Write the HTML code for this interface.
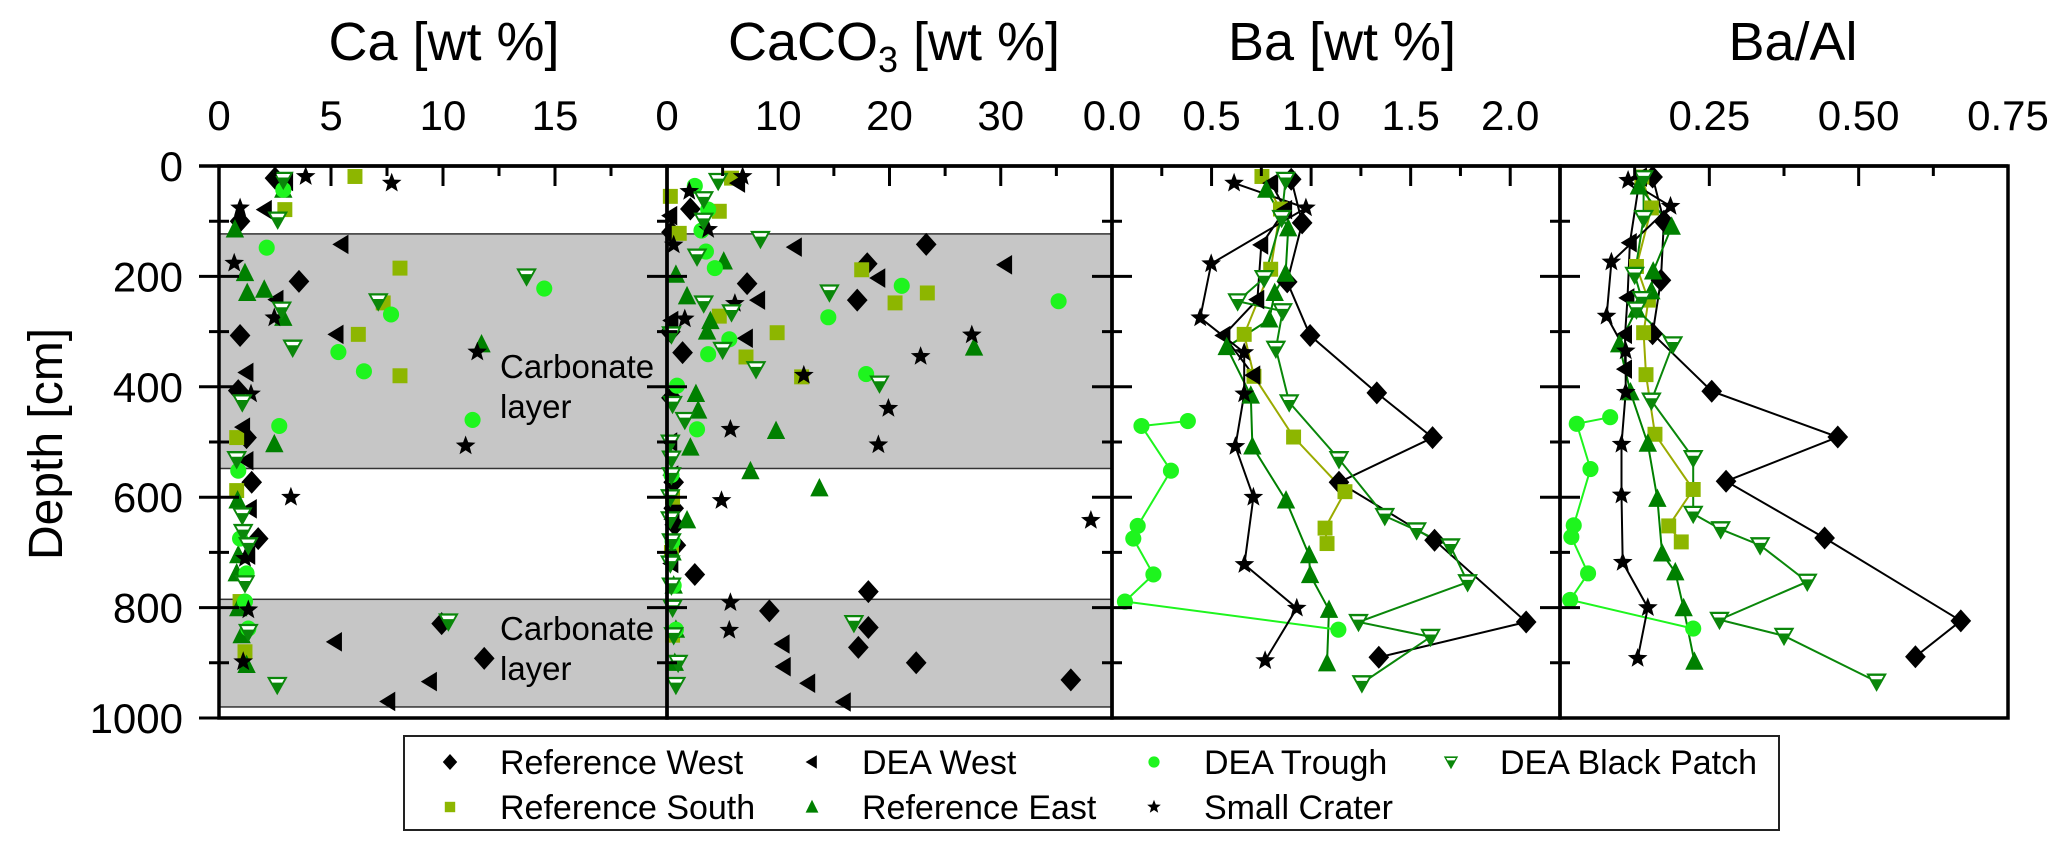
<!DOCTYPE html>
<html><head><meta charset="utf-8"><style>
html,body{margin:0;padding:0;background:#fff;}
svg{display:block;font-family:"Liberation Sans",Arial,sans-serif;}
</style></head><body>
<svg id="chart" width="2067" height="848" viewBox="0 0 2067 848" xmlns="http://www.w3.org/2000/svg">
<rect x="0" y="0" width="2067" height="848" fill="#fff"/>
<g id="bands"></g>
<g id="lines"></g>
<g id="marks"></g>
<g id="axes"></g>
<text x="500" y="378" font-size="33">Carbonate</text>
<text x="500" y="418" font-size="33">layer</text>
<text x="500" y="640" font-size="33">Carbonate</text>
<text x="500" y="680" font-size="33">layer</text>
<text x="444" y="60" font-size="54" text-anchor="middle">Ca [wt %]</text>
<text x="894" y="60" font-size="54" text-anchor="middle">CaCO<tspan font-size="36" dy="12">3</tspan><tspan dy="-12"> [wt %]</tspan></text>
<text x="1342" y="60" font-size="54" text-anchor="middle">Ba [wt %]</text>
<text x="1793" y="60" font-size="54" text-anchor="middle">Ba/Al</text>
<text x="0" y="0" font-size="48" text-anchor="middle" transform="translate(62,444) rotate(-90)">Depth [cm]</text>
<g id="legend">
<rect x="404" y="736" width="1375" height="94" fill="#fff" stroke="#222" stroke-width="2"/>
</g>
</svg>
<script>
// ---- Ca [wt %] ----
const ca_refWest_depth=[22,100,209,307,407,492,573,675,829,892];
const ca_refWest_val=[2.5,0.94,3.57,0.94,0.86,1.23,1.46,1.75,9.94,11.84];
const ca_refSouth_depth=[19,79,185,248,305,380,492,588,789,880];
const ca_refSouth_val=[6.07,2.94,8.08,7.33,6.22,8.08,0.79,0.79,0.94,1.16];
const ca_deaWest_depth=[28,79,142,242,305,374,473,534,621,705,862,934,970];
const ca_deaWest_val=[3.0,2.05,5.47,2.57,5.25,1.23,1.08,1.23,1.38,1.31,5.18,9.42,7.56];
const ca_refEast_depth=[43,115,194,224,230,275,323,504,606,705,738,801,850,904];
const ca_refEast_val=[2.87,0.71,1.16,2.02,1.26,2.87,11.72,2.47,0.83,0.86,0.79,0.86,1.01,1.23];
const ca_trough_depth=[43,148,222,269,337,372,460,471,552,675,738,789,838];
const ca_trough_val=[2.87,2.13,14.52,7.68,5.33,6.47,11.32,2.69,0.86,0.94,1.23,1.16,1.31];
const ca_crater_depth=[19,31,76,176,275,337,413,507,600,711,804,898];
const ca_crater_val=[3.87,7.71,0.94,0.68,2.47,11.53,1.43,11.01,3.21,1.16,1.31,1.08];
const ca_patch_depth=[25,97,200,245,260,329,428,531,633,663,687,756,825,844,940];
const ca_patch_val=[2.87,2.62,13.73,7.11,2.8,3.29,1.04,0.79,1.04,1.08,1.31,1.16,10.24,1.31,2.6];
// ---- CaCO3 [wt %] ----
const cc_refWest_depth=[78,142,177,213,243,338,573,687,740,771,806,836,872,900,931,120,300,420,620,650];
const cc_refWest_val=[2.1,23.3,18.0,7.2,17.1,1.4,0.6,0.8,2.5,18.1,9.2,18.1,17.2,22.4,36.3,0.4,0.3,0.4,0.6,0.7];
const cc_refSouth_depth=[22,55,82,122,188,230,248,272,302,346,382,600,700,850];
const cc_refSouth_val=[5.8,0.3,4.7,1.1,17.5,23.4,20.5,4.7,9.9,7.1,12.1,0.5,0.4,0.5];
const cc_deaWest_depth=[31,147,179,203,243,312,866,907,937,971,90,280,500,560,640,720];
const cc_deaWest_val=[6.4,11.5,30.4,19.0,8.2,7.1,10.4,10.5,12.7,15.9,0.3,0.4,0.3,0.4,0.5,0.4];
const cc_refEast_depth=[173,197,236,281,300,329,413,443,480,510,553,584,642,700,760,840,900];
const cc_refEast_val=[5.1,0.8,1.8,3.9,3.6,27.6,2.6,2.8,9.8,2.1,7.5,13.7,1.8,0.5,0.6,0.8,0.7];
const cc_trough_depth=[36,79,117,155,185,217,245,274,314,341,377,398,477,560,680,760,840];
const cc_trough_val=[2.5,3.7,3.1,3.5,4.3,21.1,35.2,14.5,5.6,3.7,17.9,0.9,2.7,0.4,0.5,0.6,0.8];
const cc_crater_depth=[19,46,115,143,249,277,306,345,379,439,477,505,606,642,791,841];
const cc_crater_val=[6.8,2.0,3.7,0.6,6.1,1.6,27.4,22.8,12.3,19.9,5.7,19.0,4.9,38.1,5.7,5.6];
const cc_patch_depth=[27,60,99,132,164,229,249,265,305,333,368,394,431,460,501,530,560,600,640,680,720,760,800,828,850,900,940];
const cc_patch_val=[4.6,3.3,3.3,8.4,2.7,14.6,3.3,5.8,0.4,5.0,8.0,19.1,0.5,1.6,0.3,0.4,0.4,0.3,0.3,0.4,0.3,0.4,0.5,16.8,0.6,1.0,0.8];
// ---- Ba [wt %] ----
const ba_refWest_depth=[24,103,210,307,411,492,573,678,826,890];
const ba_refWest_val=[0.90,0.955,0.88,0.995,1.33,1.61,1.14,1.62,2.08,1.34];
const ba_refSouth_depth=[19,78,187,305,381,491,590,656,684];
const ba_refSouth_val=[0.753,0.846,0.797,0.664,0.713,0.912,1.17,1.07,1.08];
const ba_deaWest_depth=[31,79,143,242,307,379];
const ba_deaWest_val=[0.80,0.87,0.75,0.73,0.56,0.71];
const ba_refEast_depth=[43,113,195,230,278,328,416,508,606,705,741,804,901];
const ba_refEast_val=[0.775,0.885,0.872,0.817,0.79,0.576,0.697,0.705,0.874,0.99,0.995,1.09,1.08];
const ba_trough_depth=[462,471,552,652,675,740,789,840];
const ba_trough_val=[0.381,0.148,0.296,0.129,0.107,0.208,0.065,1.137];
const ba_crater_depth=[31,76,177,275,338,413,508,600,722,801,896];
const ba_crater_val=[0.613,0.974,0.498,0.443,0.664,0.664,0.62,0.71,0.665,0.928,0.769];
const ba_patch_depth=[25,94,203,245,263,331,428,531,634,660,689,754,826,853,937];
const ba_patch_val=[0.872,0.852,0.764,0.631,0.857,0.823,0.89,1.14,1.37,1.53,1.70,1.786,1.238,1.60,1.255];
// ---- Ba/Al ----
const baal_refWest_depth=[20,100,207,304,408,491,571,674,824,889];
const baal_refWest_val=[0.155,0.174,0.169,0.155,0.254,0.465,0.278,0.443,0.671,0.595];
const baal_refSouth_depth=[20,76,182,243,302,378,486,586,652,681];
const baal_refSouth_val=[0.137,0.153,0.128,0.148,0.14,0.144,0.159,0.223,0.182,0.203];
const baal_deaWest_depth=[20,139,239,305,368];
const baal_deaWest_val=[0.134,0.117,0.113,0.109,0.109];
const baal_refEast_depth=[37,110,191,227,260,323,410,503,603,702,736,801,898];
const baal_refEast_val=[0.132,0.187,0.156,0.153,0.128,0.099,0.118,0.147,0.163,0.171,0.193,0.207,0.225];
const baal_trough_depth=[455,467,549,651,672,738,786,838];
const baal_trough_val=[0.084,0.028,0.051,0.023,0.019,0.047,0.017,0.223];
const baal_crater_depth=[26,73,174,272,335,410,504,596,718,800,892];
const baal_crater_val=[0.114,0.185,0.086,0.078,0.11,0.11,0.103,0.103,0.105,0.147,0.13];
const baal_patch_depth=[22,94,197,241,260,323,425,529,630,658,687,753,822,851,934];
const baal_patch_val=[0.14,0.14,0.125,0.137,0.128,0.189,0.153,0.223,0.223,0.269,0.335,0.414,0.267,0.375,0.53];
// ---- bands & ticks ----
const band_tops=[123,785];
const band_bottoms=[548,980];
const depth_major=[0,200,400,600,800,1000];
const depth_minor=[100,300,500,700,900];
const ca_ticks_major=[5,10,15];const ca_ticks_minor=[2.5,7.5,12.5,17.5];const ca_labels=["0","5","10","15"];const ca_label_vals=[0,5,10,15];
const cc_ticks_major=[10,20,30];const cc_ticks_minor=[5,15,25,35];const cc_labels=["0","10","20","30"];const cc_label_vals=[0,10,20,30];
const ba_ticks_major=[0.5,1,1.5,2];const ba_ticks_minor=[0.25,0.75,1.25,1.75];const ba_labels=["0.0","0.5","1.0","1.5","2.0"];const ba_label_vals=[0,0.5,1,1.5,2];
const baal_ticks_major=[0.25,0.5];const baal_ticks_minor=[0.125,0.375,0.625];const baal_labels=["0.25","0.50","0.75"];const baal_label_vals=[0.25,0.5,0.75];

const NS='http://www.w3.org/2000/svg';
const TOP=166, BOT=718, MS=1.15;
function yS(d){return TOP+d*(BOT-TOP)/1000;}
function xScale(p){return v=>p.x0+(v-p.min)*(p.x1-p.x0)/(p.max-p.min);}
function mk(tag,attrs,parent){const e=document.createElementNS(NS,tag);for(const k in attrs)e.setAttribute(k,attrs[k]);parent.appendChild(e);return e;}

const P=[
 {x0:219,x1:667,min:0,max:20,key:'ca',scatter:true,tm:ca_ticks_major,tn:ca_ticks_minor,lab:ca_labels,lv:ca_label_vals},
 {x0:667,x1:1112,min:0,max:40,key:'cc',scatter:true,tm:cc_ticks_major,tn:cc_ticks_minor,lab:cc_labels,lv:cc_label_vals},
 {x0:1112,x1:1560,min:0,max:2.25,key:'ba',scatter:false,tm:ba_ticks_major,tn:ba_ticks_minor,lab:ba_labels,lv:ba_label_vals},
 {x0:1560,x1:2008,min:0,max:0.75,key:'baal',scatter:false,tm:baal_ticks_major,tn:baal_ticks_minor,lab:baal_labels,lv:baal_label_vals}
];
const SERIES=[
 {id:'refWest',label:'Reference West',shape:'diamond',color:'#000',line:'#000'},
 {id:'refSouth',label:'Reference South',shape:'square',color:'#8db600',line:'#9aab00'},
 {id:'deaWest',label:'DEA West',shape:'left',color:'#000',line:'#000'},
 {id:'refEast',label:'Reference East',shape:'up',color:'#008000',line:'#008000'},
 {id:'trough',label:'DEA Trough',shape:'circle',color:'#1ef51e',line:'#1ef51e'},
 {id:'crater',label:'Small Crater',shape:'star',color:'#000',line:'#000'},
 {id:'patch',label:'DEA Black Patch',shape:'down',color:'#0a870a',line:'#0a870a'}
];
const DATA={
 ca:{refWest:[ca_refWest_depth,ca_refWest_val],refSouth:[ca_refSouth_depth,ca_refSouth_val],deaWest:[ca_deaWest_depth,ca_deaWest_val],refEast:[ca_refEast_depth,ca_refEast_val],trough:[ca_trough_depth,ca_trough_val],crater:[ca_crater_depth,ca_crater_val],patch:[ca_patch_depth,ca_patch_val]},
 cc:{refWest:[cc_refWest_depth,cc_refWest_val],refSouth:[cc_refSouth_depth,cc_refSouth_val],deaWest:[cc_deaWest_depth,cc_deaWest_val],refEast:[cc_refEast_depth,cc_refEast_val],trough:[cc_trough_depth,cc_trough_val],crater:[cc_crater_depth,cc_crater_val],patch:[cc_patch_depth,cc_patch_val]},
 ba:{refWest:[ba_refWest_depth,ba_refWest_val],refSouth:[ba_refSouth_depth,ba_refSouth_val],deaWest:[ba_deaWest_depth,ba_deaWest_val],refEast:[ba_refEast_depth,ba_refEast_val],trough:[ba_trough_depth,ba_trough_val],crater:[ba_crater_depth,ba_crater_val],patch:[ba_patch_depth,ba_patch_val]},
 baal:{refWest:[baal_refWest_depth,baal_refWest_val],refSouth:[baal_refSouth_depth,baal_refSouth_val],deaWest:[baal_deaWest_depth,baal_deaWest_val],refEast:[baal_refEast_depth,baal_refEast_val],trough:[baal_trough_depth,baal_trough_val],crater:[baal_crater_depth,baal_crater_val],patch:[baal_patch_depth,baal_patch_val]}
};

function drawMarker(g,shape,cx,cy,s,color){
 let e;
 if(shape==='diamond'){e=mk('polygon',{points:`${cx},${cy-10*s} ${cx+9*s},${cy} ${cx},${cy+10*s} ${cx-9*s},${cy}`,fill:color},g);}
 else if(shape==='square'){e=mk('rect',{x:cx-6.5*s,y:cy-6.5*s,width:13*s,height:13*s,fill:color},g);}
 else if(shape==='left'){e=mk('polygon',{points:`${cx-8*s},${cy} ${cx+6*s},${cy-8.5*s} ${cx+6*s},${cy+8.5*s}`,fill:color},g);}
 else if(shape==='up'){e=mk('polygon',{points:`${cx},${cy-9*s} ${cx-8*s},${cy+7*s} ${cx+8*s},${cy+7*s}`,fill:color},g);}
 else if(shape==='circle'){e=mk('circle',{cx:cx,cy:cy,r:7*s,fill:color},g);}
 else if(shape==='star'){let pts=[];for(let i=0;i<10;i++){const r=i%2?3.8*s:9*s;const a=-Math.PI/2+i*Math.PI/5;pts.push((cx+r*Math.cos(a)).toFixed(1)+','+(cy+r*Math.sin(a)).toFixed(1));}e=mk('polygon',{points:pts.join(' '),fill:color},g);}
 else {e=mk('g',{},g);
  const a=mk('polygon',{points:`${cx-9*s},${cy-7*s} ${cx+9*s},${cy-7*s} ${cx},${cy+9*s}`,fill:color},e);
  
  
  const b=mk('polygon',{points:`${cx-6*s},${cy-5*s} ${cx+6*s},${cy-5*s} ${cx+4.3*s},${cy-2*s} ${cx-4.3*s},${cy-2*s}`,fill:'#fff'},e);
  
  
 }
 return e;
}

const bands=document.getElementById('bands'),lines=document.getElementById('lines'),marks=document.getElementById('marks'),axes=document.getElementById('axes'),legend=document.getElementById('legend');
for(let i=0;i<band_tops.length;i++){
 const r=mk('rect',{x:P[0].x0,y:yS(band_tops[i]),width:P[1].x1-P[0].x0,height:yS(band_bottoms[i])-yS(band_tops[i]),fill:'#c6c6c6',stroke:'#333','stroke-width':1.5},bands);
 
 
}
P.forEach(p=>{
 const xs=xScale(p);
 SERIES.forEach(s=>{
  const [dep,val]=DATA[p.key][s.id];
  if(!p.scatter){
   const idx=dep.map((d,i)=>i).sort((a,b)=>dep[a]-dep[b]);
   const pl=mk('polyline',{points:idx.map(i=>xs(val[i]).toFixed(1)+','+yS(dep[i]).toFixed(1)).join(' '),fill:'none',stroke:s.line,'stroke-width':2},lines);
   
   
  }
  for(let i=0;i<dep.length;i++){
   const m=drawMarker(marks,s.shape,xs(val[i]),yS(dep[i]),MS,s.color);
   
   
  }
 });
});
P.forEach((p,pi)=>{
 const xs=xScale(p);
 const fr=mk('rect',{x:p.x0,y:TOP,width:p.x1-p.x0,height:BOT-TOP,fill:'none',stroke:'#000','stroke-width':3.5},axes);
 
 
 p.tm.forEach(v=>{const t=mk('line',{x1:xs(v),x2:xs(v),y1:TOP,y2:TOP+20,stroke:'#000','stroke-width':3},axes);
  
  });
 p.tn.forEach(v=>{const t=mk('line',{x1:xs(v),x2:xs(v),y1:TOP,y2:TOP+10,stroke:'#000','stroke-width':3},axes);
  
  });
 p.lab.forEach((l,i)=>{const t=mk('text',{x:xs(p.lv[i]),y:130,'font-size':42,'text-anchor':'middle'},axes);t.textContent=l;
  
  });
 depth_major.forEach(d=>{if(d===0||d===1000)return;const t=mk('line',{x1:p.x0-20,x2:p.x0+20,y1:yS(d),y2:yS(d),stroke:'#000','stroke-width':3},axes);
  
  });
 depth_minor.forEach(d=>{const t=mk('line',{x1:p.x0-10,x2:p.x0+10,y1:yS(d),y2:yS(d),stroke:'#000','stroke-width':3},axes);
  
  });
});
const topLine=mk('line',{x1:P[0].x0-20,x2:P[3].x1,y1:TOP,y2:TOP,stroke:'#000','stroke-width':3.5},axes);


const botLine=mk('line',{x1:P[0].x0-20,x2:P[0].x0,y1:BOT,y2:BOT,stroke:'#000','stroke-width':3},axes);


depth_major.forEach(d=>{const t=mk('text',{x:183,y:yS(d)+15,'font-size':42,'text-anchor':'end'},axes);t.textContent=String(d);
 
 });
const LEG=[{s:0,x:450,y:762,tx:500},{s:2,x:812,y:762,tx:862},{s:4,x:1154,y:762,tx:1204},{s:6,x:1451,y:762,tx:1500},
 {s:1,x:450,y:807,tx:500},{s:3,x:812,y:807,tx:862},{s:5,x:1154,y:807,tx:1204}];
LEG.forEach(L=>{const s=SERIES[L.s];
 const m=drawMarker(legend,s.shape,L.x,L.y,0.8,s.color);
 
 
 const t=mk('text',{x:L.tx,y:L.y+12,'font-size':34},legend);t.textContent=s.label;
 
 
});
</script>
</body></html>
